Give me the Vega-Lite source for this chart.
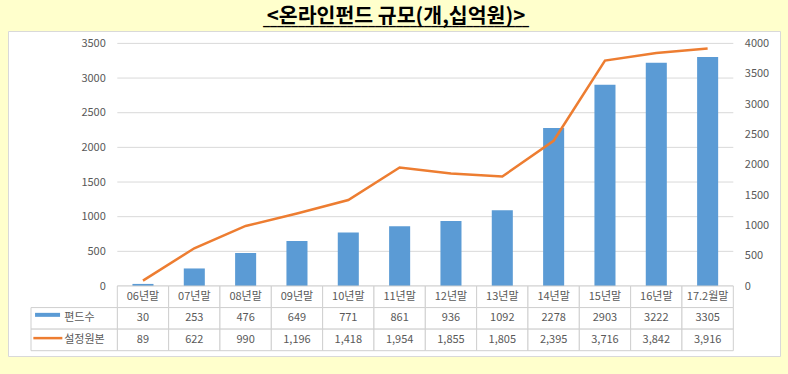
{
  "$schema": "https://vega.github.io/schema/vega-lite/v6.json",
  "width": 772,
  "height": 325,
  "autosize": {"type": "none"},
  "padding": {"left": 8, "top": 31, "right": 8, "bottom": 18},
  "background": "#FFFFCC",
  "title": {
    "text": "<온라인펀드 규모(개,십억원)>",
    "subtitle": "______________________________________",
    "anchor": "middle",
    "font": "Noto Sans CJK KR",
    "fontSize": 20.5,
    "fontWeight": "bold",
    "color": "#000000",
    "offset": 4,
    "dx": 2,
    "subtitleFont": "DejaVu Sans",
    "subtitleFontSize": 14,
    "subtitleFontWeight": "bold",
    "subtitleColor": "#000000",
    "subtitlePadding": -14
  },
  "config": {
    "view": {"fill": "#FFFFFF", "stroke": "#D9D9D9"},
    "axis": {
      "labelFont": "Noto Sans CJK KR",
      "labelFontSize": 11,
      "labelColor": "#595959",
      "grid": false,
      "domain": false,
      "ticks": false,
      "tickSize": 0,
      "title": null,
      "format": "d"
    },
    "text": {"font": "Noto Sans CJK KR", "fontSize": 11, "color": "#595959"}
  },
  "datasets": {
    "main": [
      {"cat": "06년말", "funds": 30, "amount": 89},
      {"cat": "07년말", "funds": 253, "amount": 622},
      {"cat": "08년말", "funds": 476, "amount": 990},
      {"cat": "09년말", "funds": 649, "amount": 1196},
      {"cat": "10년말", "funds": 771, "amount": 1418},
      {"cat": "11년말", "funds": 861, "amount": 1954},
      {"cat": "12년말", "funds": 936, "amount": 1855},
      {"cat": "13년말", "funds": 1092, "amount": 1805},
      {"cat": "14년말", "funds": 2278, "amount": 2395},
      {"cat": "15년말", "funds": 2903, "amount": 3716},
      {"cat": "16년말", "funds": 3222, "amount": 3842},
      {"cat": "17.2월말", "funds": 3305, "amount": 3916}
    ],
    "series": [
      {"row": "funds", "label": "편드수"},
      {"row": "amount", "label": "설정원본"}
    ],
    "grid": [
      {"v": 0}, {"v": 500}, {"v": 1000}, {"v": 1500},
      {"v": 2000}, {"v": 2500}, {"v": 3000}, {"v": 3500}
    ]
  },
  "resolve": {"scale": {"x": "independent", "y": "independent"}},
  "layer": [
    {
      "layer": [
        {
          "data": {"name": "grid"},
          "mark": {"type": "rule", "color": "#D9D9D9", "strokeWidth": 1},
          "encoding": {
            "x": {"datum": "06년말", "type": "nominal", "bandPosition": 0,
              "scale": {"type": "band", "domain": ["06년말","07년말","08년말","09년말","10년말","11년말","12년말","13년말","14년말","15년말","16년말","17.2월말"], "range": [109.3, 725.3], "paddingInner": 0, "paddingOuter": 0},
              "axis": null},
            "x2": {"datum": "17.2월말", "bandPosition": 1},
            "y": {"field": "v", "type": "quantitative",
              "scale": {"type": "linear", "domain": [0, 3500], "range": [255, 12.4], "nice": false, "zero": true}}
          }
        },
        {
          "data": {"name": "main"},
          "mark": {"type": "bar", "color": "#5B9BD5", "width": {"band": 0.41}},
          "encoding": {
            "x": {"field": "cat", "type": "nominal",
              "scale": {"type": "band", "domain": ["06년말","07년말","08년말","09년말","10년말","11년말","12년말","13년말","14년말","15년말","16년말","17.2월말"], "range": [109.3, 725.3], "paddingInner": 0, "paddingOuter": 0},
              "axis": null},
            "y": {"field": "funds", "type": "quantitative",
              "scale": {"type": "linear", "domain": [0, 3500], "range": [255, 12.4], "nice": false, "zero": true},
              "axis": {"orient": "left", "offset": -109.3, "values": [0, 500, 1000, 1500, 2000, 2500, 3000, 3500], "labelPadding": 12, "title": null, "grid": false, "format": "d"}}
          }
        }
      ]
    },
    {
      "data": {"name": "main"},
      "mark": {"type": "line", "color": "#ED7D31", "strokeWidth": 2.5},
      "encoding": {
        "x": {"field": "cat", "type": "nominal",
          "scale": {"type": "band", "domain": ["06년말","07년말","08년말","09년말","10년말","11년말","12년말","13년말","14년말","15년말","16년말","17.2월말"], "range": [109.3, 725.3], "paddingInner": 0, "paddingOuter": 0},
          "axis": null},
        "y": {"field": "amount", "type": "quantitative",
          "scale": {"type": "linear", "domain": [0, 4000], "range": [255, 12.4], "nice": false, "zero": true},
          "axis": {"orient": "right", "offset": -46.7, "values": [0, 500, 1000, 1500, 2000, 2500, 3000, 3500, 4000], "labelPadding": 11, "title": null, "format": "d"}}
      }
    },
    {
      "data": {"name": "main"},
      "encoding": {
        "x": {"field": "cat", "type": "nominal",
          "scale": {"type": "band", "domain": ["06년말","07년말","08년말","09년말","10년말","11년말","12년말","13년말","14년말","15년말","16년말","17.2월말"], "range": [109.3, 725.3], "paddingInner": 0, "paddingOuter": 0},
          "axis": null}
      },
      "layer": [
        {
          "transform": [{"fold": ["cat", "funds", "amount"], "as": ["key", "val"]}],
          "mark": {"type": "rect", "fill": "#FFFFFF", "stroke": "#CFCFCF", "strokeWidth": 1},
          "encoding": {
            "y": {"field": "key", "type": "nominal",
              "scale": {"type": "band", "domain": ["cat", "funds", "amount"], "range": [255, 319.7], "paddingInner": 0, "paddingOuter": 0},
              "axis": null}
          }
        },
        {
          "mark": {"type": "text", "baseline": "middle"},
          "encoding": {
            "y": {"datum": "cat", "type": "nominal"},
            "text": {"field": "cat", "type": "nominal"}
          }
        },
        {
          "mark": {"type": "text", "baseline": "middle"},
          "encoding": {
            "y": {"datum": "funds", "type": "nominal"},
            "text": {"field": "funds", "type": "quantitative", "format": "d"}
          }
        },
        {
          "mark": {"type": "text", "baseline": "middle"},
          "encoding": {
            "y": {"datum": "amount", "type": "nominal"},
            "text": {"field": "amount", "type": "quantitative", "format": ","}
          }
        }
      ]
    },
    {
      "data": {"name": "series"},
      "encoding": {
        "x": {"datum": "label", "type": "nominal",
          "scale": {"type": "band", "domain": ["label"], "range": [23, 109.3], "paddingInner": 0, "paddingOuter": 0},
          "axis": null},
        "y": {"field": "row", "type": "nominal",
          "scale": {"type": "band", "domain": ["cat", "funds", "amount"], "range": [255, 319.7], "paddingInner": 0, "paddingOuter": 0},
          "axis": null}
      },
      "layer": [
        {
          "mark": {"type": "rect", "fill": "#FFFFFF", "stroke": "#CFCFCF", "strokeWidth": 1}
        },
        {
          "mark": {"type": "text", "align": "left", "baseline": "middle", "dx": -10},
          "encoding": {"text": {"field": "label", "type": "nominal"}}
        },
        {
          "transform": [{"filter": "datum.row == 'funds'"}],
          "mark": {"type": "tick", "orient": "horizontal", "color": "#5B9BD5", "size": 25, "thickness": 4, "xOffset": -26.6, "yOffset": -3.5, "opacity": 1}
        },
        {
          "transform": [{"filter": "datum.row == 'amount'"}],
          "mark": {"type": "tick", "orient": "horizontal", "color": "#ED7D31", "size": 29, "thickness": 2.5, "xOffset": -26.3, "yOffset": -1.8, "opacity": 1}
        }
      ]
    }
  ]
}
